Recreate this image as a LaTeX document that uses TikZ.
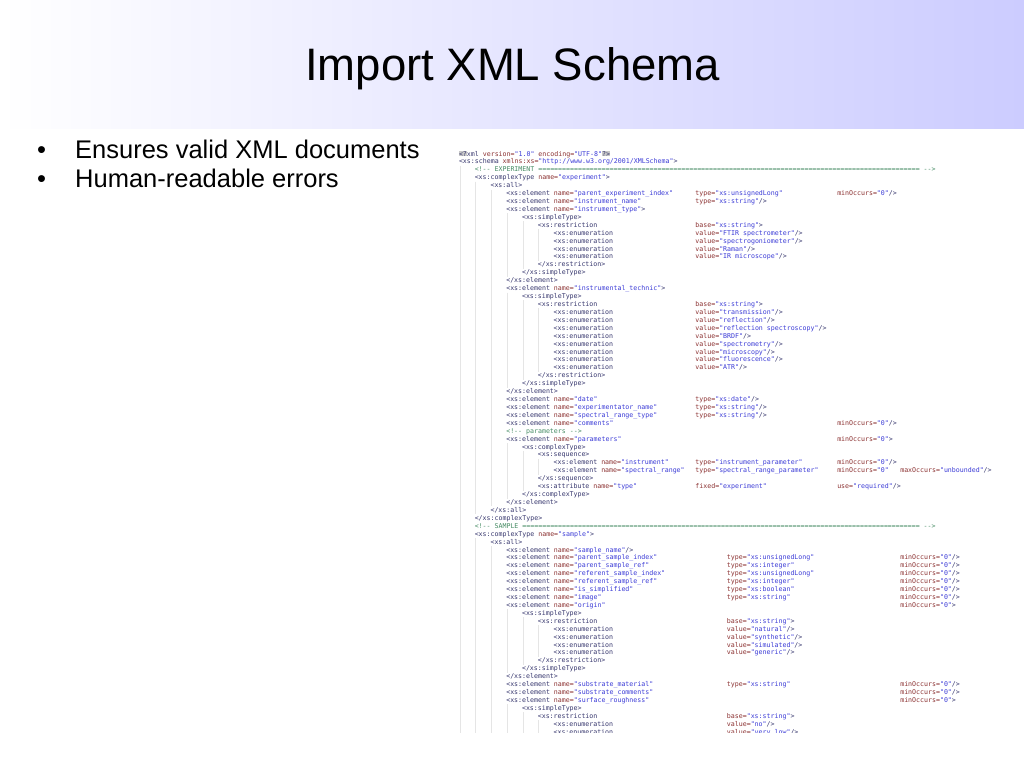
\documentclass[tikz,border=0pt]{standalone}
\usepackage{fontspec}
\setmainfont{Liberation Sans}
\setmonofont{DejaVu Sans Mono}
\usepackage{tikz}
\usetikzlibrary{backgrounds}
\definecolor{xtag}{RGB}{55,55,110}
\definecolor{xatt}{RGB}{140,50,50}
\definecolor{xvalc}{RGB}{60,60,215}
\definecolor{xcmc}{RGB}{70,140,100}
\definecolor{xhlc}{RGB}{200,200,200}
\definecolor{band}{RGB}{204,204,255}
\newcommand\xtg[1]{\textcolor{xtag}{#1}}
\newcommand\xat[1]{\textcolor{xatt}{#1}}
\newcommand\xvl[1]{\textcolor{xvalc}{#1}}
\newcommand\xcm[1]{\textcolor{xcmc}{#1}}
\newcommand\xhl[1]{{\setlength\fboxsep{0pt}\colorbox{xhlc}{#1}}}
\newcommand\eqten{==========}
\newcommand\xel[2]{\xtg{<xs:element} \xat{name=}\xvl{"#1"}\xtg{#2}}
\newcommand\xty[2]{\xat{type=}\xvl{"#1"}\xtg{#2}}
\newcommand\xmo[1]{\xat{minOccurs=}\xvl{"0"}\xtg{#1}}
\newcommand\xbase{\xat{base=}\xvl{"xs:string"}\xtg{>}}
\newcommand\xenum{\xtg{<xs:enumeration}}
\newcommand\xvalue[1]{\xat{value=}\xvl{"#1"}\xtg{/>}}
\newcommand\codeat[3]{\node[code] (r#1c#2) at ({458.8+#2*3.94},{156+(#1-1)*7.92}) {#3};}

\begin{document}
\begin{tikzpicture}[x=1pt, y=-1pt,
  code/.style={anchor=base west, inner sep=0pt, font=\ttfamily\fontsize{6.6}{7.92}\selectfont},
  guide/.style={draw=gray!20, line width=0.5pt},
  bul/.style={anchor=base west, inner sep=0pt, font=\fontsize{25.5}{29}\selectfont}]
  \useasboundingbox (0,0) rectangle (1024,768);
  \fill[white] (0,0) rectangle (1024,768);
  \shade[left color=white, right color=band] (0,0) rectangle (1024,128);
  \node[anchor=base, inner sep=0pt, font=\fontsize{45.5}{50}\selectfont] (title) at (512.5,80) {Import XML Schema};
  \node[bul] (d1) at (37,158.5) {•};
  \node[bul] (b1) at (75,158.5) {Ensures valid XML documents};
  \node[bul] (d2) at (37,187.5) {•};
  \node[bul] (b2) at (75,187.5) {Human-readable errors};
  \begin{scope}
  \clip (450,135) rectangle (1024,732);
  \foreach \c/\a/\b in {0/3/74, 4/5/46, 8/6/45, 12/9/16, 16/10/15, 20/11/14, 12/19/30, 16/20/29, 20/21/28,
      12/38/44, 16/39/43, 20/40/41, 4/50/74, 8/51/74, 12/59/66, 16/60/65, 20/61/64, 12/71/74, 16/72/74, 20/73/74}
    \draw[guide] ({459.8+\c*3.94},{142.08+\a*7.92}) -- ({459.8+\c*3.94},{150.08+\b*7.92});
  \codeat{1}{0}{\xtg{\xhl{<?}xml} \xat{version=}\xvl{"1.0"} \xat{encoding=}\xvl{"UTF-8"}\xtg{\xhl{?>}}}
  \codeat{2}{0}{\xtg{<xs:schema} \xat{xmlns:xs=}\xvl{"http://www.w3.org/2001/XMLSchema"}\xtg{>}}
  \codeat{3}{4}{\xcm{<!-- EXPERIMENT \eqten\eqten\eqten\eqten\eqten\eqten\eqten\eqten\eqten====== -->}}
  \codeat{4}{4}{\xtg{<xs:complexType} \xat{name=}\xvl{"experiment"}\xtg{>}}
  \codeat{5}{8}{\xtg{<xs:all>}}
  \codeat{6}{12}{\xel{parent\_experiment\_index}{}} \codeat{6}{60}{\xty{xs:unsignedLong}{}} \codeat{6}{96}{\xmo{/>}}
  \codeat{7}{12}{\xel{instrument\_name}{}} \codeat{7}{60}{\xty{xs:string}{/>}}
  \codeat{8}{12}{\xel{instrument\_type}{>}}
  \codeat{9}{16}{\xtg{<xs:simpleType>}}
  \codeat{10}{20}{\xtg{<xs:restriction}} \codeat{10}{60}{\xbase}
  \codeat{11}{24}{\xenum} \codeat{11}{60}{\xvalue{FTIR spectrometer}}
  \codeat{12}{24}{\xenum} \codeat{12}{60}{\xvalue{spectrogoniometer}}
  \codeat{13}{24}{\xenum} \codeat{13}{60}{\xvalue{Raman}}
  \codeat{14}{24}{\xenum} \codeat{14}{60}{\xvalue{IR microscope}}
  \codeat{15}{20}{\xtg{</xs:restriction>}}
  \codeat{16}{16}{\xtg{</xs:simpleType>}}
  \codeat{17}{12}{\xtg{</xs:element>}}
  \codeat{18}{12}{\xel{instrumental\_technic}{>}}
  \codeat{19}{16}{\xtg{<xs:simpleType>}}
  \codeat{20}{20}{\xtg{<xs:restriction}} \codeat{20}{60}{\xbase}
  \codeat{21}{24}{\xenum} \codeat{21}{60}{\xvalue{transmission}}
  \codeat{22}{24}{\xenum} \codeat{22}{60}{\xvalue{reflection}}
  \codeat{23}{24}{\xenum} \codeat{23}{60}{\xvalue{reflection spectroscopy}}
  \codeat{24}{24}{\xenum} \codeat{24}{60}{\xvalue{BRDF}}
  \codeat{25}{24}{\xenum} \codeat{25}{60}{\xvalue{spectrometry}}
  \codeat{26}{24}{\xenum} \codeat{26}{60}{\xvalue{microscopy}}
  \codeat{27}{24}{\xenum} \codeat{27}{60}{\xvalue{fluorescence}}
  \codeat{28}{24}{\xenum} \codeat{28}{60}{\xvalue{ATR}}
  \codeat{29}{20}{\xtg{</xs:restriction>}}
  \codeat{30}{16}{\xtg{</xs:simpleType>}}
  \codeat{31}{12}{\xtg{</xs:element>}}
  \codeat{32}{12}{\xel{date}{}} \codeat{32}{60}{\xty{xs:date}{/>}}
  \codeat{33}{12}{\xel{experimentator\_name}{}} \codeat{33}{60}{\xty{xs:string}{/>}}
  \codeat{34}{12}{\xel{spectral\_range\_type}{}} \codeat{34}{60}{\xty{xs:string}{/>}}
  \codeat{35}{12}{\xel{comments}{}} \codeat{35}{96}{\xmo{/>}}
  \codeat{36}{12}{\xcm{<!-- parameters -->}}
  \codeat{37}{12}{\xel{parameters}{}} \codeat{37}{96}{\xmo{>}}
  \codeat{38}{16}{\xtg{<xs:complexType>}}
  \codeat{39}{20}{\xtg{<xs:sequence>}}
  \codeat{40}{24}{\xel{instrument}{}} \codeat{40}{60}{\xty{instrument\_parameter}{}} \codeat{40}{96}{\xmo{/>}}
  \codeat{41}{24}{\xel{spectral\_range}{}} \codeat{41}{60}{\xty{spectral\_range\_parameter}{}} \codeat{41}{96}{\xmo{}}
  \codeat{41}{112}{\xat{maxOccurs=}\xvl{"unbounded"}\xtg{/>}}
  \codeat{42}{20}{\xtg{</xs:sequence>}}
  \codeat{43}{20}{\xtg{<xs:attribute} \xat{name=}\xvl{"type"}} \codeat{43}{60}{\xat{fixed=}\xvl{"experiment"}}
  \codeat{43}{96}{\xat{use=}\xvl{"required"}\xtg{/>}}
  \codeat{44}{16}{\xtg{</xs:complexType>}}
  \codeat{45}{12}{\xtg{</xs:element>}}
  \codeat{46}{8}{\xtg{</xs:all>}}
  \codeat{47}{4}{\xtg{</xs:complexType>}}
  \codeat{48}{4}{\xcm{<!-- SAMPLE \eqten\eqten\eqten\eqten\eqten\eqten\eqten\eqten\eqten\eqten{} -->}}
  \codeat{49}{4}{\xtg{<xs:complexType} \xat{name=}\xvl{"sample"}\xtg{>}}
  \codeat{50}{8}{\xtg{<xs:all>}}
  \codeat{51}{12}{\xel{sample\_name}{/>}}
  \codeat{52}{12}{\xel{parent\_sample\_index}{}} \codeat{52}{68}{\xty{xs:unsignedLong}{}} \codeat{52}{112}{\xmo{/>}}
  \codeat{53}{12}{\xel{parent\_sample\_ref}{}} \codeat{53}{68}{\xty{xs:integer}{}} \codeat{53}{112}{\xmo{/>}}
  \codeat{54}{12}{\xel{referent\_sample\_index}{}} \codeat{54}{68}{\xty{xs:unsignedLong}{}} \codeat{54}{112}{\xmo{/>}}
  \codeat{55}{12}{\xel{referent\_sample\_ref}{}} \codeat{55}{68}{\xty{xs:integer}{}} \codeat{55}{112}{\xmo{/>}}
  \codeat{56}{12}{\xel{is\_simplified}{}} \codeat{56}{68}{\xty{xs:boolean}{}} \codeat{56}{112}{\xmo{/>}}
  \codeat{57}{12}{\xel{image}{}} \codeat{57}{68}{\xty{xs:string}{}} \codeat{57}{112}{\xmo{/>}}
  \codeat{58}{12}{\xel{origin}{}} \codeat{58}{112}{\xmo{>}}
  \codeat{59}{16}{\xtg{<xs:simpleType>}}
  \codeat{60}{20}{\xtg{<xs:restriction}} \codeat{60}{68}{\xbase}
  \codeat{61}{24}{\xenum} \codeat{61}{68}{\xvalue{natural}}
  \codeat{62}{24}{\xenum} \codeat{62}{68}{\xvalue{synthetic}}
  \codeat{63}{24}{\xenum} \codeat{63}{68}{\xvalue{simulated}}
  \codeat{64}{24}{\xenum} \codeat{64}{68}{\xvalue{generic}}
  \codeat{65}{20}{\xtg{</xs:restriction>}}
  \codeat{66}{16}{\xtg{</xs:simpleType>}}
  \codeat{67}{12}{\xtg{</xs:element>}}
  \codeat{68}{12}{\xel{substrate\_material}{}} \codeat{68}{68}{\xty{xs:string}{}} \codeat{68}{112}{\xmo{/>}}
  \codeat{69}{12}{\xel{substrate\_comments}{}} \codeat{69}{112}{\xmo{/>}}
  \codeat{70}{12}{\xel{surface\_roughness}{}} \codeat{70}{112}{\xmo{>}}
  \codeat{71}{16}{\xtg{<xs:simpleType>}}
  \codeat{72}{20}{\xtg{<xs:restriction}} \codeat{72}{68}{\xbase}
  \codeat{73}{24}{\xenum} \codeat{73}{68}{\xvalue{no}}
  \codeat{74}{24}{\xenum} \codeat{74}{68}{\xvalue{very\_low}}
  \end{scope}
\end{tikzpicture}
\end{document}
